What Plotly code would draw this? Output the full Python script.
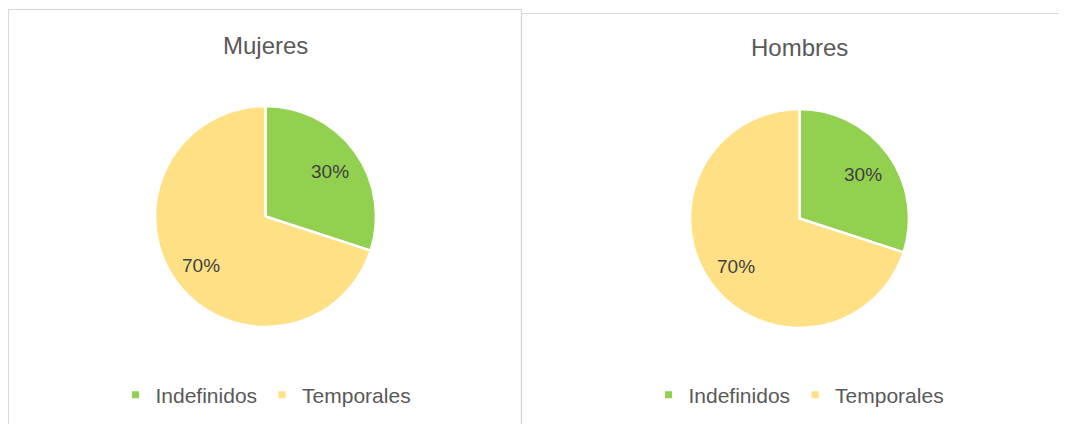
import math
import plotly.graph_objects as go

# The page body has an 8px margin, so the figure is drawn from (8, 8)
OX, OY = 8, 8
W, H = 1067 - OX, 424 - OY

categories = ["Indefinidos", "Temporales"]
mujeres_values = [30, 70]
hombres_values = [30, 70]
titles = ["Mujeres", "Hombres"]
colors = ["#92D050", "#FFE085"]

FONT = "Liberation Sans, Arial, sans-serif"


def px_x(v):
    return (v - OX) / W


def px_y(v):
    return 1 - (v - OY) / H


fig = go.Figure()

# pies: (values, center x, center y, radius, legend) in page pixels
pies = [
    (mujeres_values, 265.5, 216.5, 110.5, "legend"),
    (hombres_values, 799.5, 218.5, 109.5, "legend2"),
]
for vals, cx, cy, r, _ in pies:
    fig.add_trace(go.Pie(
        labels=categories,
        values=vals,
        sort=False,
        direction="clockwise",
        rotation=0,
        marker=dict(colors=colors, line=dict(color="white", width=2.5)),
        textinfo="none",
        domain=dict(x=[px_x(cx - r), px_x(cx + r)], y=[px_y(cy + r), px_y(cy - r)]),
        showlegend=False,
        hoverinfo="label+percent",
    ))
    # percentage labels placed at the middle angle of each slice
    total = sum(vals)
    cum = 0
    for v in vals:
        mid = (cum + v / 2) / total * 2 * math.pi
        cum += v
        f = 0.72
        lx = cx + r * f * math.sin(mid)
        ly = cy - r * f * math.cos(mid) + 2
        fig.add_annotation(text=f"{round(100 * v / total)}%", x=px_x(lx), y=px_y(ly),
                           xref="paper", yref="paper", showarrow=False,
                           xanchor="center", yanchor="middle",
                           font=dict(family=FONT, size=19, color="#404040"))

# legend proxies
for leg in ["legend", "legend2"]:
    for cat, col in zip(categories, colors):
        fig.add_trace(go.Scatter(
            x=[None], y=[None], mode="markers", name=cat,
            marker=dict(symbol="square", size=7, color=col),
            legend=leg, showlegend=True,
        ))

# chart boxes
fig.add_shape(type="rect", xref="paper", yref="paper",
              x0=px_x(8.5), x1=px_x(521.5), y0=px_y(440), y1=px_y(9.5),
              line=dict(color="#D9D9D9", width=1.2), layer="below")
fig.add_shape(type="rect", xref="paper", yref="paper",
              x0=px_x(521.5), x1=px_x(1090), y0=px_y(440), y1=px_y(13.5),
              line=dict(color="#D9D9D9", width=1.2), layer="below")

# titles
for t, cx, cy in [(titles[0], 265, 45), (titles[1], 799, 47)]:
    fig.add_annotation(text=t, x=px_x(cx), y=px_y(cy), xref="paper", yref="paper",
                       showarrow=False, xanchor="center", yanchor="middle",
                       font=dict(family=FONT, size=24, color="#595959"))

legend_common = dict(
    orientation="h", xanchor="center", yanchor="middle",
    font=dict(family=FONT, size=21, color="#595959"),
    bgcolor="rgba(0,0,0,0)", itemwidth=30, tracegroupgap=0,
)
fig.update_layout(
    width=W, height=H,
    margin=dict(l=0, r=0, t=0, b=0),
    paper_bgcolor="white", plot_bgcolor="white",
    xaxis=dict(visible=False), yaxis=dict(visible=False),
    legend=dict(x=px_x(266), y=px_y(395), **legend_common),
    legend2=dict(x=px_x(799), y=px_y(395), **legend_common),
)

fig.write_html("out.html", default_width=f"{W}px", default_height=f"{H}px")
